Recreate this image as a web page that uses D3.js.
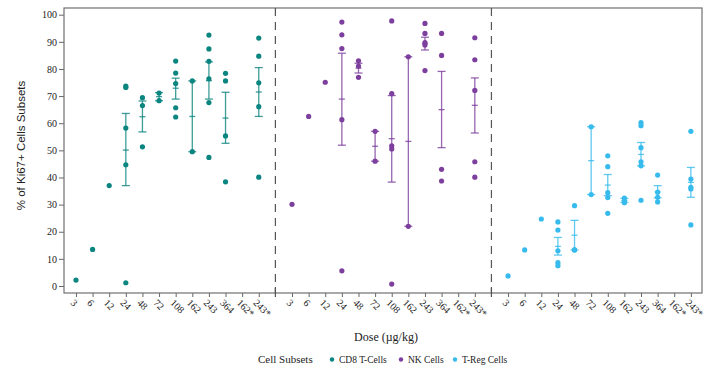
<!DOCTYPE html>
<meta charset="utf-8">
<script src="https://d3js.org/d3.v7.min.js"></script>
<style>
  body{margin:0;background:#fff;}
  text{font-family:"Liberation Serif","DejaVu Serif",serif;fill:#222;}
</style>
<div id="chart"></div>
<script>
    // dose categories repeated in each of the three panels
    const doses=["3","6","12","24","48","72","108","162","243","364","162*","243*"];
    const subsets=["CD8 T-Cells","NK Cells","T-Reg Cells"];
    const colors=["#0b8580","#7d3f9e","#37bbec"];
    const yTicks=[0,10,20,30,40,50,60,70,80,90,100];

    // individual values per dose
    const cd8Points=[[2.2],[13.5],[37.0],[73.7,73.2,58.2,44.7,1.2],[69.4,66.5,51.3],[71.1,68.3],
        [82.9,78.5,74.6,65.7,62.3],[75.6,49.5],[92.5,87.4,82.8,76.4,67.6,47.4],[78.4,75.6,55.3,38.4],[],
        [91.4,84.7,74.9,66.1,40.1]];
    const nkPoints=[[30.1],[62.5],[75.1],[97.3,92.6,87.5,61.3,5.6],[83.0,81.1,76.9],[57.0,46.0],
        [97.7,70.9,51.7,50.5,0.7],[84.5,22.0],[96.8,93.1,89.7,88.8,79.4],[93.1,85.0,43.0,38.7],[],
        [91.5,83.4,72.1,45.8,40.1]];
    const tregPoints=[[3.7],[13.3],[24.7],[23.6,20.6,13.0,8.6,7.5],[29.6,13.3,13.3],[58.7,33.7],
        [48.0,44.0,34.4,32.6,26.8],[32.4,31.4,30.7],[60.2,59.1,51.0,45.8,44.3,31.6],[40.9,34.6,32.7,31.0],[],
        [57.0,39.4,36.4,35.8,22.5]];

    // mean and error bar ends per dose
    const cd8Mean=[null,null,null,50.1,62.4,69.8,72.9,62.5,75.7,61.9,null,71.5];
    const cd8Low =[null,null,null,37.0,56.8,68.3,68.9,49.5,68.9,52.6,null,62.5];
    const cd8High=[null,null,null,63.6,68.2,71.3,76.6,75.6,82.6,71.4,null,80.5];
    const nkMean=[null,null,null,68.9,80.3,51.5,54.3,53.3,89.4,65.0,null,66.6];
    const nkLow =[null,null,null,51.9,78.5,46.0,38.3,22.0,87.0,51.0,null,56.4];
    const nkHigh=[null,null,null,85.8,82.1,57.0,70.2,84.5,91.7,79.1,null,76.7];
    const tregMean=[null,null,null,14.6,18.7,46.2,37.2,31.5,48.5,34.7,null,38.2];
    const tregLow =[null,null,null,11.4,13.3,33.7,33.3,30.8,44.3,32.5,null,32.7];
    const tregHigh=[null,null,null,17.9,24.2,58.7,41.1,32.3,52.9,37.0,null,43.7];

    const panels=[
        {points:cd8Points,mean:cd8Mean,low:cd8Low,high:cd8High},
        {points:nkPoints,mean:nkMean,low:nkLow,high:nkHigh},
        {points:tregPoints,mean:tregMean,low:tregLow,high:tregHigh}
    ];

    const W=711,H=374;
    const margin={top:8,left:64,right:9,bottom:81};
    const x0=margin.left,x1=W-margin.right,y0=margin.top,y1=H-margin.bottom;

    const svg=d3.select("#chart").append("svg")
        .attr("width",W).attr("height",H);

    // one continuous position scale: panel p, dose i -> p*13+i (gaps at 12 and 25)
    const x=d3.scaleLinear().domain([-0.72,37.67]).range([x0,x1]);
    const y=d3.scaleLinear().domain([-2.58,102.47]).range([y1,y0]);
    const pos=(p,i)=>p*13+i;

    // y axis
    const yAxis=svg.append("g")
        .attr("transform",`translate(${x0},0)`)
        .call(d3.axisLeft(y).tickValues(yTicks).tickSize(5).tickPadding(2));
    yAxis.select(".domain").remove();
    yAxis.selectAll("line").attr("stroke","#666");
    yAxis.selectAll("text").style("font-size","10px").style("font-family","Liberation Serif");

    // x axis
    const xVals=[],xLabs=[];
    for(let p=0;p<3;p++) doses.forEach((d,i)=>{xVals.push(pos(p,i));xLabs.push(d);});
    const xAxis=svg.append("g")
        .attr("transform",`translate(0,${y1})`)
        .call(d3.axisBottom(x).tickValues(xVals).tickSize(4)
            .tickFormat((d,i)=>xLabs[i]));
    xAxis.select(".domain").remove();
    xAxis.selectAll("line").attr("stroke","#666");
    xAxis.selectAll("text")
        .style("font-size","10px").style("font-family","Liberation Serif")
        .attr("text-anchor","start")
        .attr("transform","translate(-4,8) rotate(45)")
        .attr("dy","0.35em").attr("y",0).attr("x",0);

    // frame
    svg.append("rect")
        .attr("x",x0).attr("y",y0).attr("width",x1-x0).attr("height",y1-y0)
        .attr("fill","none").attr("stroke","#707070").attr("stroke-width",1.2);

    // panel dividers
    [12,25].forEach(v=>{
        svg.append("line")
            .attr("x1",x(v)).attr("x2",x(v)).attr("y1",y0).attr("y2",y1)
            .attr("stroke","#555").attr("stroke-width",1.2).attr("stroke-dasharray","8,6");
        svg.append("line")
            .attr("x1",x(v)).attr("x2",x(v)).attr("y1",y1-6).attr("y2",y1+4)
            .attr("stroke","#555").attr("stroke-width",1.2);
    });

    // error bars and points
    panels.forEach((pan,p)=>{
        const col=colors[p];
        const g=svg.append("g");
        const bars=doses.map((d,i)=>({i,m:pan.mean[i],lo:pan.low[i],hi:pan.high[i]}))
            .filter(b=>b.m!==null);
        const eb=g.selectAll("g.eb").data(bars).join("g")
            .attr("stroke",col).attr("stroke-width",1.3).attr("stroke-opacity",0.8);
        eb.append("line")
            .attr("x1",b=>x(pos(p,b.i))).attr("x2",b=>x(pos(p,b.i)))
            .attr("y1",b=>y(b.lo)).attr("y2",b=>y(b.hi));
        [["lo",4],["hi",4],["m",3]].forEach(([k,w])=>{
            eb.append("line")
                .attr("x1",b=>x(pos(p,b.i))-w).attr("x2",b=>x(pos(p,b.i))+w)
                .attr("y1",b=>y(b[k])).attr("y2",b=>y(b[k]));
        });
        const pts=[];
        pan.points.forEach((vals,i)=>vals.forEach(v=>pts.push({i,v})));
        g.selectAll("circle").data(pts).join("circle")
            .attr("cx",d=>x(pos(p,d.i))).attr("cy",d=>y(d.v))
            .attr("r",2.6).attr("fill",col);
    });

    // axis titles
    svg.append("text")
        .attr("transform",`translate(25,${(y0+y1)/2-5}) rotate(-90)`)
        .attr("text-anchor","middle")
        .style("font-family","Liberation Sans").style("font-size","11.5px")
        .text("% of Ki67+ Cells Subsets");
    svg.append("text")
        .attr("x",386).attr("y",341).attr("text-anchor","middle")
        .style("font-size","12px")
        .text("Dose (µg/kg)");

    // legend
    const leg=svg.append("g");
    leg.append("text").attr("x",258).attr("y",363).style("font-size","11px").text("Cell Subsets");
    const legX=[332,401,455];
    subsets.forEach((s,k)=>{
        leg.append("circle").attr("cx",legX[k]).attr("cy",359.5).attr("r",2.2).attr("fill",colors[k]);
        leg.append("text").attr("x",legX[k]+7).attr("y",363).style("font-size","9.5px").text(s);
    });
</script>
